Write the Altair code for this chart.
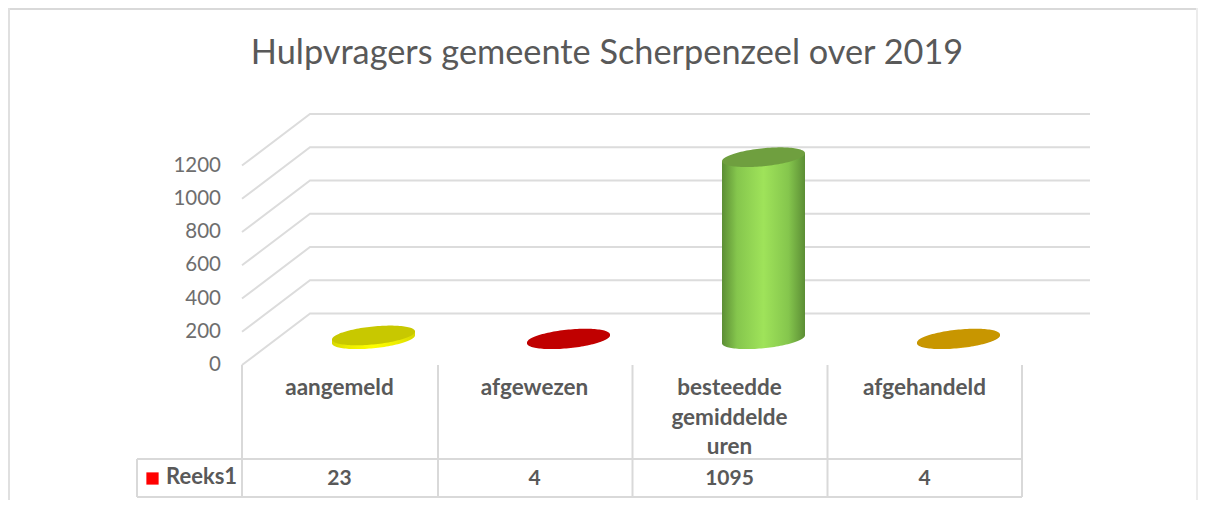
import numpy as np
import pandas as pd
import altair as alt

TITLE = "Hulpvragers gemeente Scherpenzeel over 2019"
CATEGORIES = ["aangemeld", "afgewezen", "besteedde\ngemiddelde\nuren", "afgehandeld"]
VALUES = [23, 4, 1095, 4]
TICKS = [0, 200, 400, 600, 800, 1000, 1200]
SERIES = "Reeks1"
TOP_COLORS = ["#c8c800", "#c00000", "#6f9f3f", "#c89600"]
SIDE_EDGE = ["#d8d800", "#b00000", "#5c8e35", "#b88a00"]
SIDE_BLEND = ["#ecec00", "#c80000", "#85c64d", "#c89600"]
SIDE_MID = ["#ffff00", "#d00000", "#9fe35a", "#d8a400"]

# page px -> data units (plot origin sits at page 8,8)
PX_COL = 195.0
PX_V = 200 / 33.25
X0_PAGE, Y0_PAGE = 242.0, 365.0
W, H = 1190, 492
xs = alt.Scale(domain=[(8 - X0_PAGE) / PX_COL, (8 + W - X0_PAGE) / PX_COL], range=[0, W], nice=False, zero=False)
ys = alt.Scale(domain=[(Y0_PAGE - 8 - H) * PX_V, (Y0_PAGE - 8) * PX_V], range=[H, 0], nice=False, zero=False)
DX = 68 / PX_COL
DV = 51.5 * PX_V
N_COL = len(CATEGORIES)
X_ = alt.X("x:Q", scale=xs, axis=None)
Y_ = alt.Y("y:Q", scale=ys, axis=None)
Y2_ = alt.Y2("y2:Q")
FONT = "Lato"
TXT = "#595959"


def rule(x1, y1, x2, y2, color="#d9d9d9", w=2):
    return alt.Chart(pd.DataFrame({"a": [0]})).mark_rule(color=color, strokeWidth=w).encode(
        x=alt.value(x1 - 8), x2=alt.value(x2 - 8), y=alt.value(y1 - 8), y2=alt.value(y2 - 8))


# gridlines through the value scale
grid_rows = []
for t in TICKS:
    grid_rows += [
        {"tick": t, "o": 0, "x": 0, "y": t},
        {"tick": t, "o": 1, "x": DX, "y": t + DV},
        {"tick": t, "o": 2, "x": N_COL + DX, "y": t + DV},
    ]
grid = alt.Chart(pd.DataFrame(grid_rows)).mark_line(color="#dcdcdc", strokeWidth=2).encode(
    x=X_, y=Y_, detail="tick:N", order="o:Q")

tick_labels = alt.Chart(pd.DataFrame({"y": TICKS, "t": [str(t) for t in TICKS]})).mark_text(
    font=FONT, fontSize=20.5, color="#6e6e6e", align="right", baseline="middle", dy=0).encode(
    x=alt.value(221 - 8), y=Y_, text="t:N")

# cylinder geometry derived from each value
A, B, S = 41.5 / PX_COL, 9.0 * PX_V, 4.0 * PX_V
u = np.cos(np.linspace(np.pi, 0, 61))
tops, bodies = [], []
for i, (c, v) in enumerate(zip(CATEGORIES, VALUES)):
    cx = i + 0.5 + DX / 2
    base = DV / 2
    half = np.sqrt(np.clip(1 - u ** 2, 0, 1))
    tops.append(pd.DataFrame({"cat": i, "x": cx + A * u, "y": base + v + S * u + B * half,
                              "y2": base + v + S * u - B * half}))
    bodies.append(pd.DataFrame({"cat": i, "x": cx + A * u, "y": base + v + S * u,
                                "y2": base + S * u - B * half}))

body_layers = []
for i in range(N_COL):
    grad = alt.LinearGradient(gradient="linear", x1=0, x2=1, y1=0, y2=0, stops=[
        alt.GradientStop(offset=0, color=SIDE_EDGE[i]),
        alt.GradientStop(offset=0.18, color=SIDE_BLEND[i]),
        alt.GradientStop(offset=0.5, color=SIDE_MID[i]),
        alt.GradientStop(offset=0.8, color=SIDE_BLEND[i]),
        alt.GradientStop(offset=1, color=SIDE_EDGE[i]),
    ])
    body_layers.append(alt.Chart(bodies[i]).mark_area(color=grad).encode(x=X_, y=Y_, y2=Y2_))

top_layer = alt.Chart(pd.concat(tops)).mark_area().encode(
    x=X_, y=Y_, y2=Y2_,
    color=alt.Color("cat:N", scale=alt.Scale(domain=list(range(N_COL)), range=TOP_COLORS), legend=None))

# table and frame
table = [rule(8, 9, 1198, 9), rule(9, 8, 9, 500, color="#e0e0e0"), rule(1197, 8, 1197, 500, color="#ececec")]
for xp in (242, 438, 632.5, 827.5, 1022):
    table.append(rule(xp, 365, xp, 497))
table += [rule(137, 459, 1022, 459), rule(137, 497, 1022, 497), rule(137, 459, 137, 497)]

cat_df = pd.DataFrame({"x": [i + 0.5 for i in range(N_COL)], "t": CATEGORIES, "v": [str(v) for v in VALUES]})
cat_text = alt.Chart(cat_df).mark_text(font=FONT, fontSize=22.5, fontWeight="bold", color=TXT, align="center",
                                       baseline="top", lineBreak="\n", lineHeight=29.5).encode(
    x=X_, y=alt.value(377 - 8), text="t:N")
val_text = alt.Chart(cat_df).mark_text(font=FONT, fontSize=21, fontWeight="bold", color=TXT, align="center",
                                       baseline="middle").encode(
    x=X_, y=alt.value(479 - 8), text="v:N")
leg_key = alt.Chart(pd.DataFrame({"a": [SERIES]})).mark_square(color="#ff0000", size=150, opacity=1).encode(
    x=alt.value(152.5 - 8), y=alt.value(478.5 - 8))
leg_text = alt.Chart(pd.DataFrame({"t": [SERIES]})).mark_text(font=FONT, fontSize=22, fontWeight="bold", color=TXT,
                                                               align="left", baseline="middle").encode(
    x=alt.value(166 - 8), y=alt.value(477 - 8), text="t:N")
title = alt.Chart(pd.DataFrame({"t": [TITLE]})).mark_text(font=FONT, fontSize=34.3, color="#595959", align="center",
                                                           baseline="middle").encode(
    x=alt.value(607 - 8), y=alt.value(54 - 8), text="t:N")

chart = alt.layer(*table, grid, tick_labels, *body_layers, top_layer, cat_text, val_text, leg_key, leg_text, title).properties(
    width=W, height=H, autosize=alt.AutoSizeParams(type="none"), padding=0, background="white"
).configure_view(stroke=None)

chart.save("out.html", embed_options={"renderer": "svg", "actions": False})
